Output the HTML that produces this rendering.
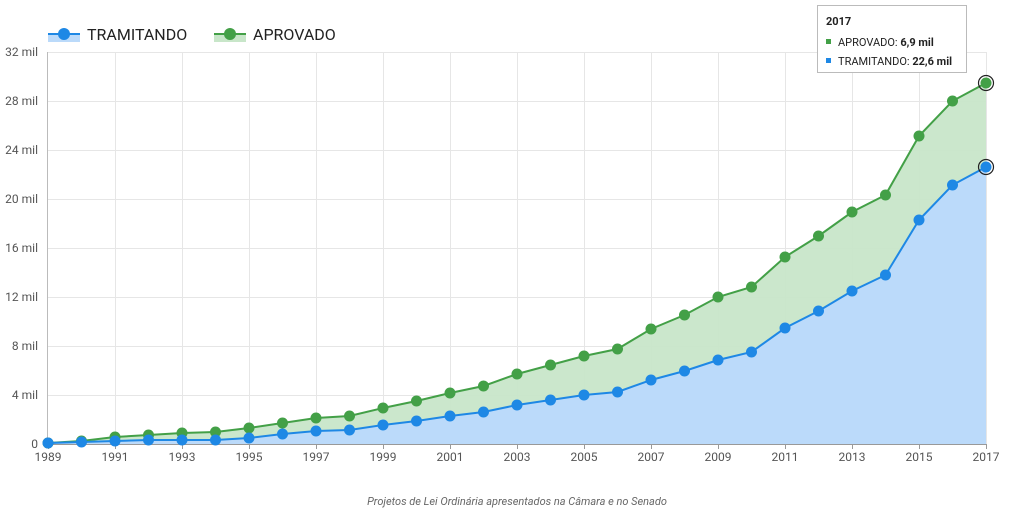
<!DOCTYPE html>
<html><head><meta charset="utf-8"><style>
body{margin:0;background:#fff;width:1009px;height:508px;overflow:hidden;font-family:"Liberation Sans",sans-serif}
</style></head><body>
<svg width="1009" height="508" xmlns="http://www.w3.org/2000/svg" font-family="Roboto, 'Liberation Sans', sans-serif">
<g stroke="#e6e6e6" stroke-width="1">
<line x1="48" y1="52.5" x2="986" y2="52.5"/><line x1="48" y1="101.5" x2="986" y2="101.5"/>
<line x1="48" y1="150.5" x2="986" y2="150.5"/><line x1="48" y1="199.5" x2="986" y2="199.5"/>
<line x1="48" y1="248.5" x2="986" y2="248.5"/><line x1="48" y1="297.5" x2="986" y2="297.5"/>
<line x1="48" y1="346.5" x2="986" y2="346.5"/><line x1="48" y1="395.5" x2="986" y2="395.5"/>
</g>
<g id="vg" stroke="#e6e6e6"></g>
<line x1="48" y1="444.5" x2="986" y2="444.5" stroke="#999"/>
<line x1="47.5" y1="52" x2="47.5" y2="444" stroke="#bbb"/>
<g font-size="12" fill="#555" text-anchor="end">
<text x="38" y="56">32 mil</text><text x="38" y="105">28 mil</text><text x="38" y="154">24 mil</text>
<text x="38" y="203">20 mil</text><text x="38" y="252">16 mil</text><text x="38" y="301">12 mil</text>
<text x="38" y="350">8 mil</text><text x="38" y="399">4 mil</text><text x="38" y="448">0</text>
</g>
<g id="xl" font-size="12" fill="#555" text-anchor="middle"></g>
<path id="ga" fill="#c8e6c9" opacity="0.95"/>
<path id="ba" fill="#bbdafa"/>
<polyline id="gl" fill="none" stroke="#43a047" stroke-width="2"/>
<polyline id="bl" fill="none" stroke="#1e88e5" stroke-width="2"/>
<g id="gd" fill="#43a047"></g><g id="bd" fill="#1e88e5"></g>
<circle cx="986" cy="83" r="7.5" fill="none" stroke="#222" stroke-width="1.2"/>
<circle cx="986" cy="167" r="7.5" fill="none" stroke="#222" stroke-width="1.2"/>
<rect x="48" y="34" width="32" height="8" fill="#bbdafa"/><line x1="48" y1="34" x2="80" y2="34" stroke="#1e88e5" stroke-width="2"/>
<circle cx="64" cy="34" r="6" fill="#1e88e5"/>
<text x="87" y="40" font-size="16" fill="#222">TRAMITANDO</text>
<rect x="214" y="34" width="32" height="8" fill="#c8e6c9"/><line x1="214" y1="34" x2="246" y2="34" stroke="#43a047" stroke-width="2"/>
<circle cx="230" cy="34" r="6" fill="#43a047"/>
<text x="253" y="40" font-size="16" fill="#222">APROVADO</text>
<rect x="817.5" y="5.5" width="149" height="67" fill="#fff" stroke="#bbb"/>
<text x="826" y="25" font-size="11" font-weight="bold" fill="#222">2017</text>
<rect x="826" y="39" width="5" height="5" fill="#43a047"/>
<text x="838" y="46" font-size="11" fill="#222">APROVADO: <tspan font-weight="bold">6,9 mil</tspan></text>
<rect x="826" y="58" width="5" height="5" fill="#1e88e5"/>
<text x="838" y="65" font-size="11" fill="#222">TRAMITANDO: <tspan font-weight="bold">22,6 mil</tspan></text>
<text x="517" y="505" font-size="11" font-style="italic" fill="#666" text-anchor="middle">Projetos de Lei Ordinária apresentados na Câmara e no Senado</text>
<script>
var G=[443,441,437,435,433,432,428,423,418,416,408,401,393,386,374,365,356,349,329,315,297,287,257,236,212,195,136,101,83];
var B=[443,442,441,440,440,440,438,434,431,430,425,421,416,412,405,400,395,392,380,371,360,352,328,311,291,275,220,185,167];
var ns="http://www.w3.org/2000/svg";function X(i){return 48+i*938/28}
var gp=[],bp=[];
for(var i=0;i<29;i++){gp.push(X(i)+","+G[i]);bp.push(X(i)+","+B[i]);}
document.getElementById("gl").setAttribute("points",gp.join(" "));
document.getElementById("bl").setAttribute("points",bp.join(" "));
document.getElementById("ba").setAttribute("d","M48,444 L"+bp.join(" L")+" L986,444Z");
document.getElementById("ga").setAttribute("d","M"+gp.join(" L")+" L"+bp.slice().reverse().join(" L")+"Z");
function add(id,tag,a,t){var e=document.createElementNS(ns,tag);for(var k in a)e.setAttribute(k,a[k]);if(t)e.textContent=t;document.getElementById(id).appendChild(e);}
for(var i=0;i<29;i++){add("gd","circle",{cx:X(i),cy:G[i],r:5.5});add("bd","circle",{cx:X(i),cy:B[i],r:5.5});}
for(var i=0;i<29;i+=2){var x=Math.round(X(i))+.5;if(i>0)add("vg","line",{x1:x,y1:52,x2:x,y2:444});add("vg","line",{x1:x,y1:444,x2:x,y2:449,stroke:"#999"});add("xl","text",{x:X(i),y:461},""+(1989+i));}
</script>
</svg>
</body></html>
